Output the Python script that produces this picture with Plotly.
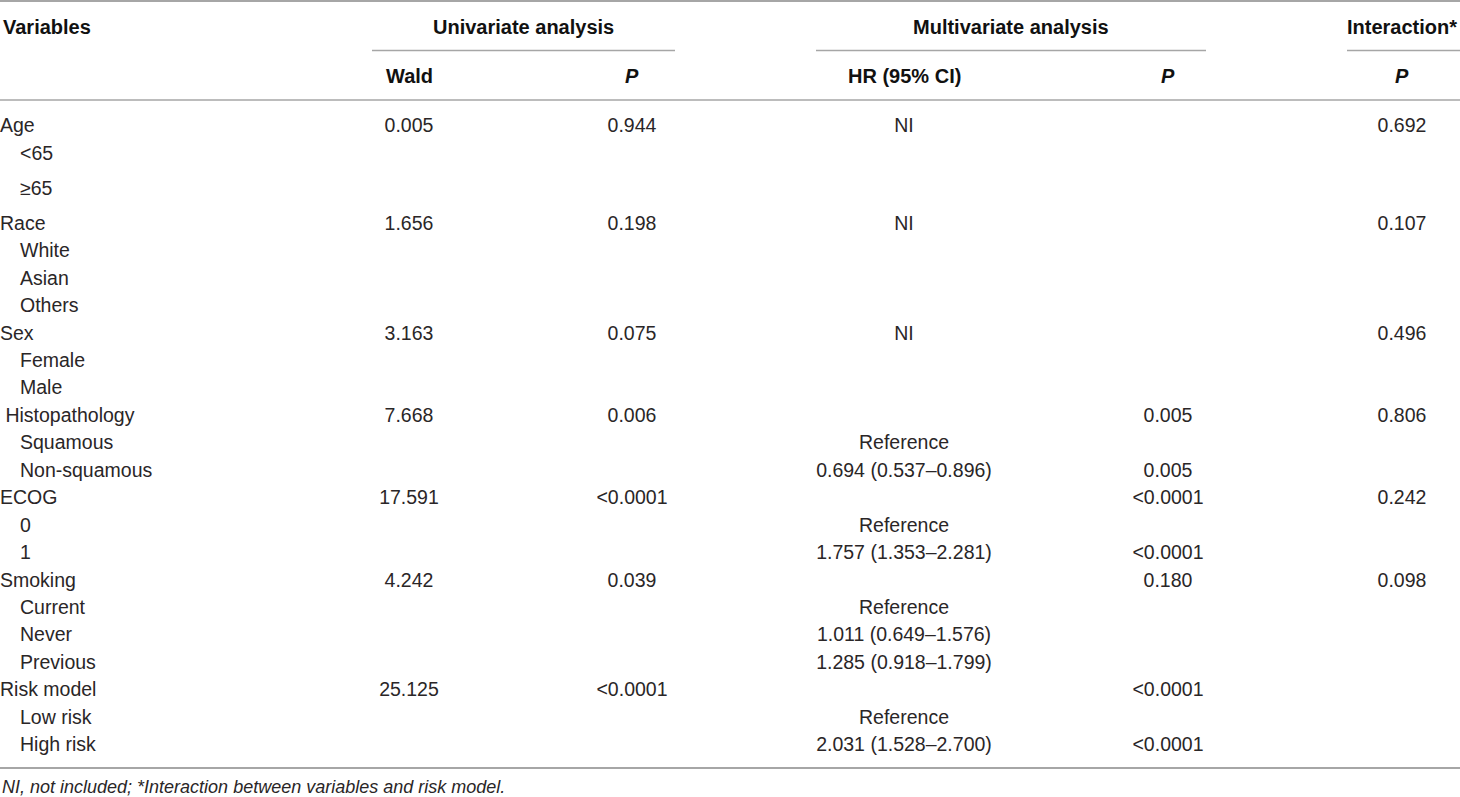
import plotly.graph_objects as go

# table content
variables = ["Age", "<65", "≥65", "Race", "White", "Asian", "Others", "Sex", "Female", "Male",
             "\u00a0Histopathology", "Squamous", "Non-squamous", "ECOG", "0", "1",
             "Smoking", "Current", "Never", "Previous", "Risk model", "Low risk", "High risk"]
level = [0, 1, 1, 0, 1, 1, 1, 0, 1, 1, 0, 1, 1, 0, 1, 1, 0, 1, 1, 1, 0, 1, 1]
wald = ["0.005", "", "", "1.656", "", "", "", "3.163", "", "", "7.668", "", "", "17.591", "", "",
        "4.242", "", "", "", "25.125", "", ""]
uni_p = ["0.944", "", "", "0.198", "", "", "", "0.075", "", "", "0.006", "", "", "<0.0001", "", "",
         "0.039", "", "", "", "<0.0001", "", ""]
hr_ci = ["NI", "", "", "NI", "", "", "", "NI", "", "", "", "Reference", "0.694 (0.537–0.896)",
         "", "Reference", "1.757 (1.353–2.281)", "", "Reference", "1.011 (0.649–1.576)",
         "1.285 (0.918–1.799)", "", "Reference", "2.031 (1.528–2.700)"]
multi_p = ["", "", "", "", "", "", "", "", "", "", "0.005", "", "0.005", "<0.0001", "", "<0.0001",
           "0.180", "", "", "", "<0.0001", "", "<0.0001"]
inter_p = ["0.692", "", "", "0.107", "", "", "", "0.496", "", "", "0.806", "", "", "0.242", "", "",
           "0.098", "", "", "", "", "", ""]
footnote = "NI, not included; *Interaction between variables and risk model."

W, H = 1460, 797
TXT = "#2a2627"
LINE = "#a6a6a6"
FONT = "Liberation Sans"

# row centres: first row at 127.5, normal step 27.45, the ≥65 row sits in a taller band
row_y = []
y = 127.5
for i, v in enumerate(variables):
    if i > 0:
        y += 27.45
        if v == "≥65" or variables[i - 1] == "≥65":
            y += 7.5
    row_y.append(y)

fig = go.Figure()

def col(x, texts, anchor="middle center"):
    fig.add_trace(go.Scatter(
        x=[x] * len(texts), y=row_y, mode="text", text=texts,
        textposition=anchor, hoverinfo="skip", showlegend=False,
        textfont=dict(family=FONT, size=19.5, color=TXT)))

var_x = [0 if lv == 0 else 20 for lv in level]
fig.add_trace(go.Scatter(
    x=var_x, y=row_y, mode="text", text=variables, textposition="middle right",
    hoverinfo="skip", showlegend=False,
    textfont=dict(family=FONT, size=19.5, color=TXT)))
col(409, wald)
col(632, uni_p)
col(904, hr_ci)
col(1168, multi_p)
col(1402, inter_p)

# headers
def head(x, y, t, anchor="center"):
    fig.add_annotation(x=x, y=y, xref="x", yref="y", text=t, showarrow=False,
                       xanchor=anchor, yanchor="middle",
                       font=dict(family=FONT, size=20, color="#111111"))

head(1, 27, "<b>Variables</b>", "left")
head(523.5, 27, "<b>Univariate analysis</b>")
head(1011, 27, "<b>Multivariate analysis</b>")
head(1459, 27, "<b>Interaction*</b>", "right")
head(409, 76, "<b>Wald</b>")
head(632, 76, "<b><i>P</i></b>")
head(904, 76, "<b>HR (95% CI)</b>")
head(1168, 76, "<b><i>P</i></b>")
head(1402, 76, "<b><i>P</i></b>")

fig.add_annotation(x=0, y=787, xref="x", yref="y", text="<i>" + footnote + "</i>",
                   showarrow=False, xanchor="left", yanchor="middle",
                   font=dict(family=FONT, size=18, color=TXT))

# rules
rules = [(0, W, 1, 2), (372, 675, 50.5, 1.5), (816, 1206, 50.5, 1.5), (1347, W, 50.5, 1.5),
         (0, W, 100, 1.5), (0, W, 768, 2)]
for x0, x1, yy, wd in rules:
    fig.add_shape(type="line", x0=x0, x1=x1, y0=yy, y1=yy, xref="x", yref="y",
                  line=dict(color=LINE, width=wd))

fig.update_xaxes(range=[0, W], visible=False, fixedrange=True)
fig.update_yaxes(range=[H, 0], visible=False, fixedrange=True)
fig.update_layout(width=W, height=H, margin=dict(l=0, r=0, t=0, b=0),
                  paper_bgcolor="white", plot_bgcolor="white")

fig.write_html("out.html", config={"displayModeBar": False},
               post_script="document.body.style.margin='0';document.body.style.overflow='hidden';")
